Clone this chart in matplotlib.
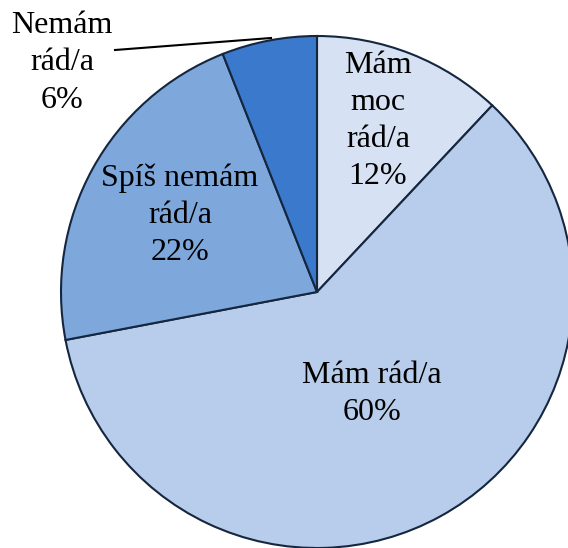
import matplotlib
matplotlib.use('Agg')
from matplotlib import pyplot as plt

labels = ['Mám\nmoc\nrád/a\n12%', 'Mám rád/a\n60%', 'Spíš nemám\nrád/a\n22%', 'Nemám\nrád/a\n6%']
values = [12, 60, 22, 6]
colors = ['#d6e2f3', '#b8cdeb', '#7ea7dc', '#3b79cc']

plt.rcParams['font.family'] = ['Liberation Serif', 'DejaVu Serif']

fig = plt.figure(figsize=(5.68, 5.48), dpi=100)
ax = fig.add_axes([0, 0, 1, 1])

cx, cy, r = 317, 256, 256
ax.pie(values, colors=colors, startangle=90, counterclock=False,
       center=(cx, cy), radius=r, frame=True,
       wedgeprops=dict(edgecolor='#15263f', linewidth=1.5))
ax.set_xlim(0, 568)
ax.set_ylim(0, 548)
ax.set_aspect('equal')
ax.axis('off')

# label positions (pixels from top-left)
pos = [(378, 121), (372, 394), (180, 215), (62, 63)]
for lab, (x, y) in zip(labels, pos):
    ax.text(x, 548 - y, lab, ha='center', va='center', fontsize=23,
            linespacing=1.37, color='black')

# leader line for the small slice
ax.plot([115, 271], [548 - 50, 548 - 38], color='black', lw=1.5)

fig.savefig('out.png', dpi=100)
